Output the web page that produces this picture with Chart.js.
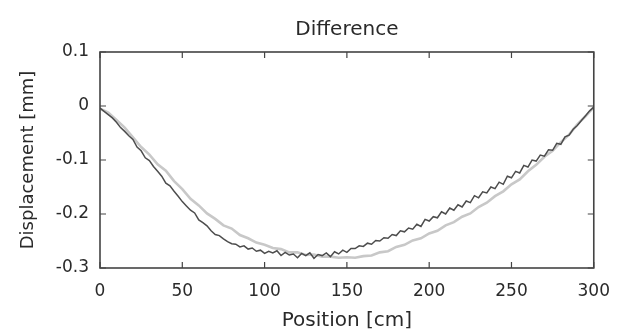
<!DOCTYPE html>
<html>
<head>
<meta charset="utf-8">
<script src="https://cdn.jsdelivr.net/npm/chart.js@4"></script>
<style>
html,body{margin:0;padding:0;background:#fff;}
#wrap{width:623px;height:336px;}
</style>
</head>
<body>
<div id="wrap"><canvas id="c" width="623" height="336"></canvas></div>
<script>
const titleText = "Difference";
const xLabel = "Position [cm]";
const yLabel = "Displacement [mm]";
const xTicks = [0, 50, 100, 150, 200, 250, 300];
const yTicks = [0.1, 0, -0.1, -0.2, -0.3];

const darkX = [0,2.5,5,7.5,10,12.5,15,17.5,20,22.5,25,27.5,30,32.5,35,37.5,40,42.5,45,47.5,50,52.5,55,57.5,60,62.5,65,67.5,70,72.5,75,77.5,80,82.5,85,87.5,90,92.5,95,97.5,100,102.5,105,107.5,110,112.5,115,117.5,120,122.5,125,127.5,130,132.5,135,137.5,140,142.5,145,147.5,150,152.5,155,157.5,160,162.5,165,167.5,170,172.5,175,177.5,180,182.5,185,187.5,190,192.5,195,197.5,200,202.5,205,207.5,210,212.5,215,217.5,220,222.5,225,227.5,230,232.5,235,237.5,240,242.5,245,247.5,250,252.5,255,257.5,260,262.5,265,267.5,270,272.5,275,277.5,280,282.5,285,287.5,290,292.5,295,297.5,300];
const darkY = [-0.004,-0.010,-0.016,-0.022,-0.030,-0.040,-0.047,-0.055,-0.062,-0.076,-0.083,-0.096,-0.101,-0.112,-0.121,-0.130,-0.143,-0.148,-0.158,-0.167,-0.177,-0.185,-0.193,-0.198,-0.211,-0.216,-0.222,-0.231,-0.238,-0.240,-0.246,-0.251,-0.255,-0.256,-0.261,-0.259,-0.265,-0.263,-0.269,-0.267,-0.273,-0.269,-0.272,-0.268,-0.277,-0.271,-0.276,-0.274,-0.281,-0.273,-0.277,-0.272,-0.282,-0.275,-0.277,-0.272,-0.279,-0.270,-0.274,-0.267,-0.271,-0.264,-0.264,-0.259,-0.260,-0.254,-0.256,-0.249,-0.250,-0.244,-0.245,-0.238,-0.240,-0.231,-0.233,-0.226,-0.228,-0.219,-0.223,-0.210,-0.213,-0.205,-0.207,-0.196,-0.200,-0.189,-0.193,-0.183,-0.187,-0.176,-0.179,-0.166,-0.170,-0.159,-0.161,-0.150,-0.153,-0.141,-0.145,-0.130,-0.133,-0.121,-0.124,-0.110,-0.113,-0.100,-0.102,-0.091,-0.093,-0.081,-0.082,-0.069,-0.071,-0.057,-0.054,-0.043,-0.036,-0.027,-0.018,-0.009,-0.002];

const lightX = [0,5,10,15,20,25,30,35,40,45,50,55,60,65,70,75,80,85,90,95,100,105,110,115,120,125,130,135,140,145,150,155,160,165,170,175,180,185,190,195,200,205,210,215,220,225,230,235,240,245,250,255,260,265,270,275,280,285,290,295,300];
const lightY = [-0.005,-0.012,-0.026,-0.040,-0.058,-0.076,-0.090,-0.108,-0.120,-0.139,-0.154,-0.172,-0.184,-0.199,-0.209,-0.221,-0.227,-0.239,-0.245,-0.253,-0.257,-0.263,-0.265,-0.271,-0.271,-0.276,-0.275,-0.279,-0.279,-0.281,-0.280,-0.281,-0.278,-0.277,-0.271,-0.269,-0.261,-0.257,-0.249,-0.245,-0.236,-0.231,-0.221,-0.215,-0.205,-0.199,-0.187,-0.179,-0.167,-0.158,-0.145,-0.136,-0.121,-0.109,-0.094,-0.083,-0.067,-0.053,-0.034,-0.019,-0.002];

const darkData = darkX.map((x, i) => ({x: x, y: darkY[i]}));
const lightData = lightX.map((x, i) => ({x: x, y: lightY[i]}));

const frameColor = '#444444';
const fontFam = '"DejaVu Sans", sans-serif';
const textColor = '#2a2a2a';

const framePlugin = {
  id: 'frame',
  afterDatasetsDraw(chart) {
    const {ctx, chartArea: a, scales} = chart;
    ctx.save();
    ctx.strokeStyle = frameColor;
    ctx.lineWidth = 1.6;
    ctx.strokeRect(a.left, a.top, a.right - a.left, a.bottom - a.top);
    ctx.lineWidth = 1.2;
    const tl = 6;
    ctx.beginPath();
    xTicks.forEach(v => {
      const px = scales.x.getPixelForValue(v);
      ctx.moveTo(px, a.bottom); ctx.lineTo(px, a.bottom - tl);
      ctx.moveTo(px, a.top); ctx.lineTo(px, a.top + tl);
    });
    yTicks.forEach(v => {
      const py = scales.y.getPixelForValue(v);
      ctx.moveTo(a.left, py); ctx.lineTo(a.left + tl, py);
      ctx.moveTo(a.right, py); ctx.lineTo(a.right - tl, py);
    });
    ctx.stroke();
    ctx.restore();
  }
};

new Chart(document.getElementById('c'), {
  type: 'line',
  data: {
    datasets: [
      {data: darkData, borderColor: '#4d4d4d', borderWidth: 1.5, pointRadius: 0, tension: 0, fill: false},
      {data: lightData, borderColor: '#c8c8c8', borderWidth: 2.6, pointRadius: 0, tension: 0, fill: false}
    ]
  },
  options: {
    responsive: false,
    animation: false,
    devicePixelRatio: 1,
    layout: {padding: {left: 0, right: 19, top: 0, bottom: 0}},
    plugins: {
      legend: {display: false},
      tooltip: {enabled: false},
      title: {
        display: true, text: titleText, color: textColor, fullSize: false,
        font: {family: fontFam, size: 20, weight: 'normal'},
        padding: {top: 18, bottom: 10}
      }
    },
    scales: {
      x: {
        type: 'linear', min: 0, max: 300,
        afterBuildTicks: s => { s.ticks = xTicks.map(v => ({value: v})); },
        afterFit: s => { s.height = 68; },
        grid: {display: false, drawTicks: false},
        border: {display: false},
        ticks: {color: textColor, font: {family: fontFam, size: 17}, padding: 13, maxRotation: 0, autoSkip: false},
        title: {display: true, text: xLabel, color: textColor, font: {family: fontFam, size: 20}, padding: {top: 0, bottom: 3}}
      },
      y: {
        type: 'linear', min: -0.3, max: 0.1,
        afterBuildTicks: s => { s.ticks = yTicks.map(v => ({value: v})); },
        afterFit: s => { s.width = 100; },
        grid: {display: false, drawTicks: false},
        border: {display: false},
        ticks: {color: textColor, font: {family: fontFam, size: 17}, padding: 11, autoSkip: false,
          callback: v => String(Math.round(v * 10) / 10)},
        title: {display: true, text: yLabel, color: textColor, font: {family: fontFam, size: 18}, padding: {top: 18, bottom: 0}}
      }
    }
  },
  plugins: [framePlugin]
});
</script>
</body>
</html>
